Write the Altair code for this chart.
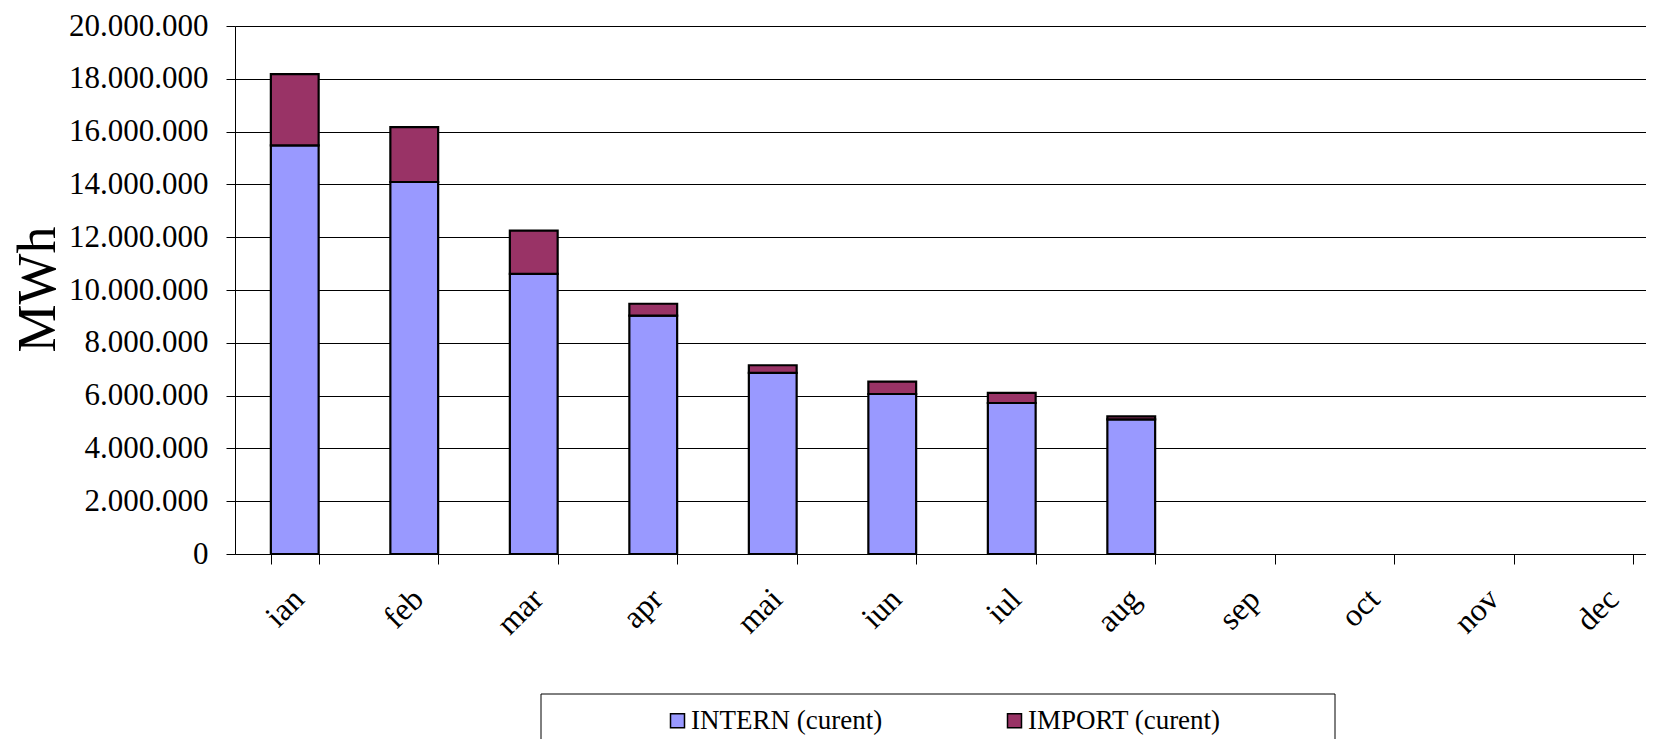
import altair as alt
import pandas as pd

months = ["ian", "feb", "mar", "apr", "mai", "iun", "iul", "aug", "sep", "oct", "nov", "dec"]
intern = [15480000, 14090000, 10610000, 9030000, 6860000, 6060000, 5720000, 5100000]
imports = [2700000, 2080000, 1640000, 450000, 290000, 470000, 380000, 110000]
series = ["INTERN (curent)", "IMPORT (curent)"]
colors = ["#9999FF", "#993366"]
y_ticks = [0, 2000000, 4000000, 6000000, 8000000, 10000000, 12000000, 14000000, 16000000, 18000000, 20000000]

rows = []
for i, m in enumerate(months[:len(intern)]):
    rows.append({"luna": m, "serie": series[0], "val": intern[i], "ord": 0})
    rows.append({"luna": m, "serie": series[1], "val": imports[i], "ord": 1})
df = pd.DataFrame(rows)

FONT = "Liberation Serif"
W, H = 1411, 528
STEP = 119.5

bars = alt.Chart(df).mark_bar(stroke="black", strokeWidth=2.2).encode(
    x=alt.X(
        "luna:N",
        sort=months,
        scale=alt.Scale(domain=months, range=[0, STEP * 12], paddingInner=0.6, paddingOuter=0.3),
        axis=alt.Axis(
            title=None, labelAngle=315, labelFont=FONT, labelFontSize=32, labelColor="black",
            tickBand="extent", tickSize=10, tickColor="black", domainColor="black",
            labelPadding=19, labelOffset=-7, grid=False,
        ),
    ),
    y=alt.Y(
        "val:Q",
        stack="zero",
        scale=alt.Scale(domain=[0, 20000000], nice=False),
        axis=alt.Axis(
            title="MWh", format=",.0f", values=y_ticks,
            labelFont=FONT, labelFontSize=31, labelColor="black", labelPadding=18,
            tickSize=9, tickColor="black", domainColor="black",
            gridColor="black", gridOpacity=1, gridWidth=1,
            titleFont=FONT, titleFontSize=54, titleFontWeight="normal", titleColor="black",
            titleX=-197, titleY=263, titleAngle=270, titleAlign="center", titleBaseline="middle",
        ),
    ),
    color=alt.Color(
        "serie:N",
        scale=alt.Scale(domain=series, range=colors),
        legend=alt.Legend(
            title=None, orient="none", legendX=429, legendY=681, direction="horizontal",
            columnPadding=118, symbolType="square", symbolSize=196,
            symbolStrokeColor="black", symbolStrokeWidth=1.5,
            labelFont=FONT, labelFontSize=27, labelColor="black", labelOffset=0, labelLimit=400,
        ),
    ),
    order=alt.Order("ord:Q"),
)

box = alt.Chart(pd.DataFrame({"a": [0]})).mark_rect(fill="white", stroke="black", strokeWidth=1).encode(
    x=alt.value(306), x2=alt.value(1100), y=alt.value(668), y2=alt.value(780)
)

chart = alt.layer(box, bars).properties(
    width=W,
    height=H,
    padding={"left": 227, "top": 18, "right": 0, "bottom": 185},
    autosize=alt.AutoSizeParams(type="none"),
).configure_view(stroke=None).configure(
    locale={"number": {"decimal": ",", "thousands": ".", "grouping": [3], "currency": ["", ""]}}
)

chart.save("out.html", embed_options={"renderer": "svg", "actions": False})
